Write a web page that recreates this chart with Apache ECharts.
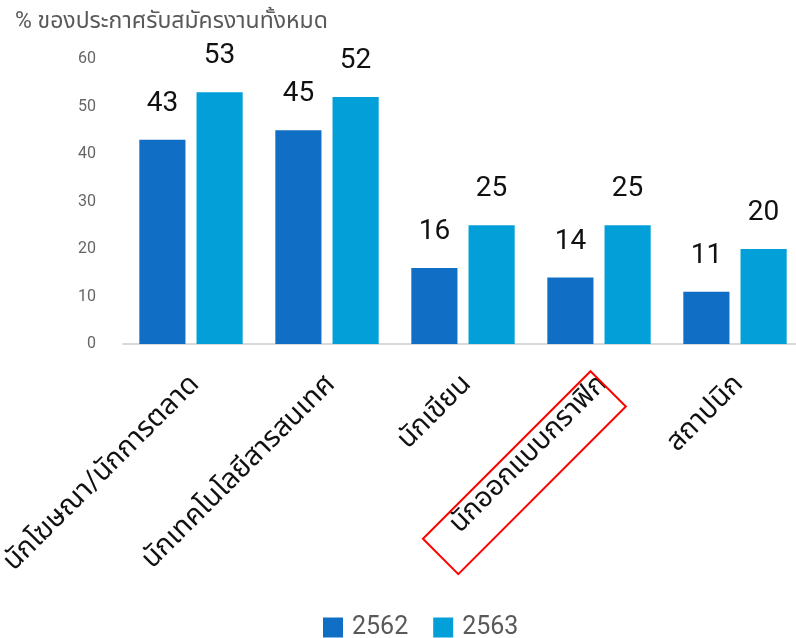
<!DOCTYPE html>
<html>
<head>
<meta charset="utf-8">
<script src="https://cdn.jsdelivr.net/npm/echarts@6/dist/echarts.min.js"></script>
<style>
html,body{margin:0;padding:0;background:#fff;}
#c{width:796px;height:638px;}
</style>
</head>
<body>
<div id="c"></div>
<script>
const categories = ['นักโฆษณา/นักการตลาด', 'นักเทคโนโลยีสารสนเทศ', 'นักเขียน', 'นักออกแบบกราฟิก', 'สถาปนิก'];
const values2562 = [43, 45, 16, 14, 11];
const values2563 = [53, 52, 25, 25, 20];
const seriesNames = ['2562', '2563'];
const highlighted = 'นักออกแบบกราฟิก';
const yTicks = { min: 0, max: 60, interval: 10 };

const FONT = 'Roboto, "Noto Sans Thai", "Noto Sans", sans-serif';
const LABEL_MARGIN = 32;
const chart = echarts.init(document.getElementById('c'));
const labelStyle = {
  show: true, position: 'top', distance: 22,
  fontSize: 28, color: '#111', fontFamily: 'Roboto'
};
chart.setOption({
  animation: false,
  textStyle: { fontFamily: FONT },
  title: {
    text: '% ของประกาศรับสมัครงานทั้งหมด',
    left: 10, top: 6,
    textStyle: { fontSize: 23, fontWeight: 'normal', color: '#595959', fontFamily: FONT }
  },
  legend: {
    left: 318, top: 610,
    itemWidth: 20, itemHeight: 20, itemGap: 25,
    icon: 'rect',
    textStyle: { fontSize: 25, color: '#595959', padding: [0, 0, 0, 4] },
    data: seriesNames
  },
  grid: { left: 123, right: -7, top: 59, bottom: 294, containLabel: false, outerBoundsMode: 'none' },
  xAxis: {
    type: 'category',
    data: categories,
    axisLine: { lineStyle: { color: '#d9d9d9', width: 2 } },
    axisTick: { show: false },
    axisLabel: {
      rotate: 45, margin: LABEL_MARGIN, interval: 0,
      fontSize: 28, color: '#111', fontFamily: FONT,
      formatter: function (v) { return '{t|' + v + '}'; },
      rich: {
        t: { fontSize: 28, color: '#111', fontFamily: FONT, padding: [12, 0, 0, 0] }
      }
    }
  },
  yAxis: {
    type: 'value',
    min: yTicks.min, max: yTicks.max, interval: yTicks.interval,
    axisLine: { show: false },
    axisTick: { show: false },
    splitLine: { show: false },
    axisLabel: { fontSize: 16, color: '#666', margin: 27 }
  },
  series: [
    {
      name: seriesNames[0], type: 'bar', data: values2562,
      barGap: '24%', barCategoryGap: '24%',
      itemStyle: { color: '#106EC5' },
      label: labelStyle
    },
    {
      name: seriesNames[1], type: 'bar', data: values2563,
      itemStyle: { color: '#029FD8' },
      label: labelStyle
    }
  ]
});

// red annotation box around the highlighted category label (rotated 45°)
const cx = chart.convertToPixel({ xAxisIndex: 0 }, highlighted);
const y0 = chart.convertToPixel({ yAxisIndex: 0 }, 0);
const ax = cx, ay = y0 + 30;
const s = Math.SQRT1_2;
const U = [s, -s], V = [s, s];
const box = { u0: -241, u1: -4, v0: -8, v1: 42 };
function pt(u, v) { return [ax + u * U[0] + v * V[0], ay + u * U[1] + v * V[1]]; }
chart.setOption({
  graphic: [{
    type: 'polygon',
    shape: { points: [pt(box.u1, box.v0), pt(box.u1, box.v1), pt(box.u0, box.v1), pt(box.u0, box.v0)] },
    style: { fill: 'none', stroke: '#ff0000', lineWidth: 2 },
    z: 100
  }]
});
</script>
</body>
</html>
